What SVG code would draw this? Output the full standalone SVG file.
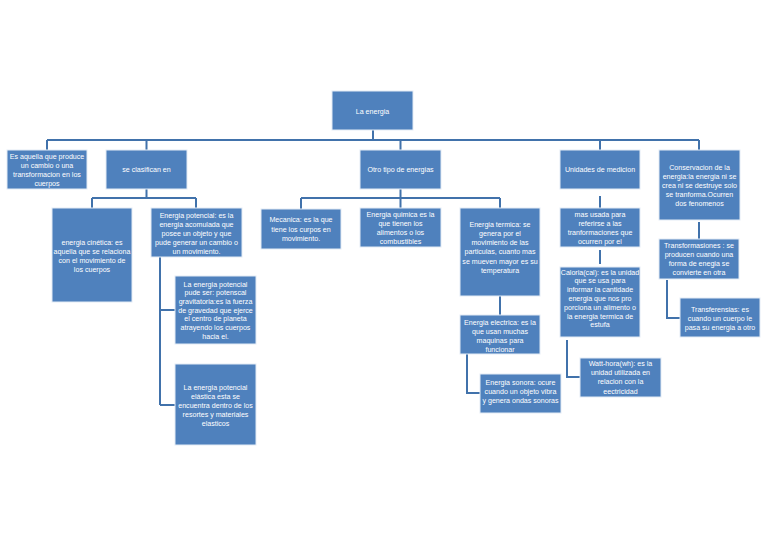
<svg xmlns="http://www.w3.org/2000/svg" width="768" height="543" viewBox="0 0 768 543">
<style>
.bg{fill:#ffffff}
.box{fill:#4f81bd;stroke:#e3ebf5;stroke-width:1}
.t{font-family:"Liberation Sans",Arial,sans-serif;font-size:7.1px;fill:#ffffff;text-anchor:middle}
.c{fill:none;stroke:#4172ab;stroke-width:2}
</style>
<rect class="bg" x="0" y="0" width="768" height="543"/>
<g id="connectors">
<path class="c" d="M373 130V140M47 140H699M47 140V150M146.5 140V150M400.5 140V150M600 140V150M699 140V150"/>
<path class="c" d="M146.5 189V198M92 198H196M92 198V208M196 198V208"/>
<path class="c" d="M160 257V405M160 310H175M160 405H175"/>
<path class="c" d="M400.5 189V198M301 198H500M301 198V209M400.5 198V208M500 198V208"/>
<path class="c" d="M500 296V315M467 354V393H480"/>
<path class="c" d="M600 196V208M600 250V264M567 340V377H580"/>
<path class="c" d="M699 222V239M667 280V318H680"/>
</g>
<g id="root"><rect class="box" x="332" y="91" width="81" height="39"/><text class="t" x="372.5" y="113.5">La energia</text></g>
<g id="n1"><rect class="box" x="7" y="150" width="80" height="39"/><text class="t"><tspan x="47" y="158.5">Es aquella que produce</tspan><tspan x="47" y="167.5">un cambio o una</tspan><tspan x="47" y="176.5">transformacion en los</tspan><tspan x="47" y="185.5">cuerpos</tspan></text></g>
<g id="n2"><rect class="box" x="106" y="150" width="81" height="39"/><text class="t" x="146.5" y="172">se clasifican en</text></g>
<g id="n3"><rect class="box" x="360" y="150" width="81" height="39"/><text class="t" x="400.5" y="172">Otro tipo de energias</text></g>
<g id="n4"><rect class="box" x="560" y="150" width="80" height="39"/><text class="t" x="600" y="172">Unidades de medicion</text></g>
<g id="n5"><rect class="box" x="659" y="150" width="81" height="70"/><text class="t"><tspan x="699.5" y="169.5">Conservacion de la</tspan><tspan x="699.5" y="178.5">energia:la energia ni se</tspan><tspan x="699.5" y="187.5">crea ni se destruye solo</tspan><tspan x="699.5" y="196.5">se tranforma.Ocurren</tspan><tspan x="699.5" y="205.5">dos fenomenos</tspan></text></g>
<g id="n6"><rect class="box" x="52" y="208" width="80" height="94"/><text class="t"><tspan x="92" y="245">energia cinética: es</tspan><tspan x="92" y="254">aquella que se relaciona</tspan><tspan x="92" y="263">con el movimiento  de</tspan><tspan x="92" y="272">los cuerpos</tspan></text></g>
<g id="n7"><rect class="box" x="151" y="208" width="91" height="49"/><text class="t"><tspan x="196.5" y="217.5">Energia  potencial: es la</tspan><tspan x="196.5" y="226.5">energia acomulada que</tspan><tspan x="196.5" y="235.5">posee un objeto y que</tspan><tspan x="196.5" y="244.5">pude generar un cambio o</tspan><tspan x="196.5" y="253.5">un movimiento.</tspan></text></g>
<g id="n8"><rect class="box" x="175" y="276" width="81" height="68"/><text class="t"><tspan x="215.5" y="286.5">La energia potencial</tspan><tspan x="215.5" y="295.2">pude ser: potenscal</tspan><tspan x="215.5" y="303.9">gravitatoria:es la fuerza</tspan><tspan x="215.5" y="312.6">de gravedad  que ejerce</tspan><tspan x="215.5" y="321.3">el centro de planeta</tspan><tspan x="215.5" y="330">atrayendo los  cuerpos</tspan><tspan x="215.5" y="338.7">hacia el.</tspan></text></g>
<g id="n9"><rect class="box" x="175" y="364" width="81" height="81"/><text class="t"><tspan x="215.5" y="389.5">La energia potencial</tspan><tspan x="215.5" y="398.5">elástica esta se</tspan><tspan x="215.5" y="407.5">encuentra dentro de los</tspan><tspan x="215.5" y="416.5">resortes y materiales</tspan><tspan x="215.5" y="425.5">elasticos</tspan></text></g>
<g id="n10"><rect class="box" x="261" y="209" width="80" height="40"/><text class="t"><tspan x="301" y="222">Mecanica: es la que</tspan><tspan x="301" y="231.5">tiene los curpos en</tspan><tspan x="301" y="241">movimiento.</tspan></text></g>
<g id="n11"><rect class="box" x="360" y="208" width="81" height="39"/><text class="t"><tspan x="400.5" y="216.5">Energia quimica es la</tspan><tspan x="400.5" y="225.5">que tienen  los</tspan><tspan x="400.5" y="234.5">alimentos o los</tspan><tspan x="400.5" y="243.5">combustibles</tspan></text></g>
<g id="n12"><rect class="box" x="460" y="208" width="80" height="88"/><text class="t"><tspan x="500" y="226.5">Energia termica: se</tspan><tspan x="500" y="235.8">genera  por el</tspan><tspan x="500" y="245.1">movimiento de las</tspan><tspan x="500" y="254.4">particulas, cuanto mas</tspan><tspan x="500" y="263.7">se mueven mayor es su</tspan><tspan x="500" y="273">temperatura</tspan></text></g>
<g id="n13"><rect class="box" x="460" y="315" width="80" height="39"/><text class="t"><tspan x="500" y="324.5">Energia electrica:  es la</tspan><tspan x="500" y="333.5">que usan muchas</tspan><tspan x="500" y="342.5">maquinas para</tspan><tspan x="500" y="351.5">funcionar</tspan></text></g>
<g id="n14"><rect class="box" x="480" y="374" width="81" height="39"/><text class="t"><tspan x="520.5" y="384.5">Energia sonora: ocure</tspan><tspan x="520.5" y="393.5">cuando un objeto vibra</tspan><tspan x="520.5" y="402.5">y genera ondas sonoras</tspan></text></g>
<g id="n15"><rect class="box" x="560" y="208" width="80" height="39"/><text class="t"><tspan x="600" y="216.5">mas usada para</tspan><tspan x="600" y="225.5">referirse a las</tspan><tspan x="600" y="234.5">tranformaciones que</tspan><tspan x="600" y="243.5">ocurren  por el</tspan></text></g>
<g id="n16"><rect class="box" x="560" y="267" width="80" height="70"/><text class="t"><tspan x="600" y="274.5">Caloria(cal): es la unidad</tspan><tspan x="600" y="283.3">que se usa para</tspan><tspan x="600" y="292.1">informar la cantidade</tspan><tspan x="600" y="300.9">energia que nos pro</tspan><tspan x="600" y="309.7">porciona un alimento o</tspan><tspan x="600" y="318.5">la energia termica de</tspan><tspan x="600" y="327.3">estufa</tspan></text></g>
<g id="n17"><rect class="box" x="580" y="358" width="81" height="39"/><text class="t"><tspan x="620.5" y="365.5">Watt-hora(wh): es la</tspan><tspan x="620.5" y="374.5">unidad utilizada en</tspan><tspan x="620.5" y="384">relacion  con la</tspan><tspan x="620.5" y="393.5">eectricidad</tspan></text></g>
<g id="n18"><rect class="box" x="659" y="239" width="80" height="40"/><text class="t"><tspan x="699" y="247.5">Transformasiones : se</tspan><tspan x="699" y="256.5">producen cuando una</tspan><tspan x="699" y="265.5">forma de enegia se</tspan><tspan x="699" y="274.5">convierte  en otra</tspan></text></g>
<g id="n19"><rect class="box" x="680" y="298" width="80" height="39"/><text class="t"><tspan x="720" y="311.5">Transferensias: es</tspan><tspan x="720" y="320.5">cuando un cuerpo le</tspan><tspan x="720" y="329.5">pasa su energia a otro</tspan></text></g>
</svg>
